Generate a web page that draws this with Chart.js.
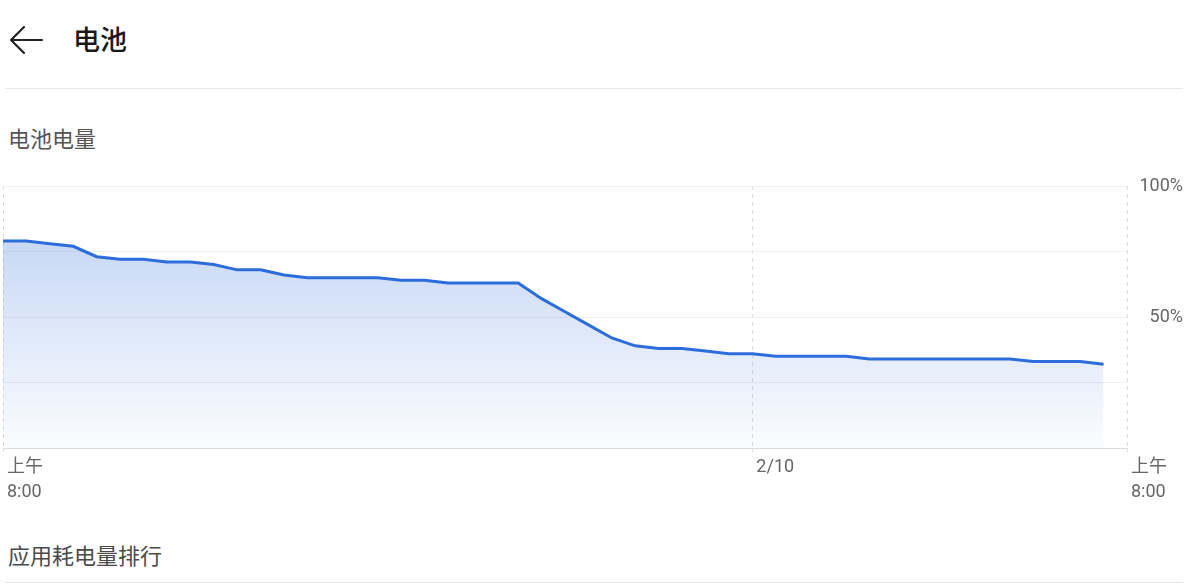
<!DOCTYPE html>
<html>
<head>
<meta charset="utf-8">
<script src="https://cdn.jsdelivr.net/npm/chart.js@4.4.1/dist/chart.umd.min.js"></script>
<style>
  html, body { margin: 0; padding: 0; background: #fff; }
  body { width: 1200px; height: 584px; position: relative; overflow: hidden;
         font-family: Roboto, "Noto Sans CJK SC", sans-serif; }
  .txt { position: absolute; white-space: nowrap; font-family: "Noto Sans CJK SC", sans-serif; }
  #title { left: 73px; top: 25px; font-size: 27px; line-height: 27px; font-weight: 500; color: #1a1a1a; }
  #sub1 { left: 8px; top: 126px; font-size: 22px; line-height: 22px; color: #555; }
  #sub2 { left: 8px; top: 543px; font-size: 22px; line-height: 22px; color: #4a4a4a; }
  .rule { position: absolute; left: 5px; width: 1178px; height: 1px; background: #e8e8e8; }
  #back { position: absolute; left: 8px; top: 24px; }
  #wrap { position: absolute; left: 0; top: 0; width: 1200px; height: 584px; }
</style>
</head>
<body>
<svg id="back" width="36" height="32" viewBox="0 0 36 32">
  <path d="M34 16 H4 M16 3 L3 16 L16 29" fill="none" stroke="#222" stroke-width="2.2" stroke-linecap="round" stroke-linejoin="round"/>
</svg>
<div class="txt" id="title">电池</div>
<div class="rule" style="top:88px"></div>
<div class="txt" id="sub1">电池电量</div>
<div class="txt" id="sub2">应用耗电量排行</div>
<div class="rule" style="top:582px"></div>
<div id="wrap"><canvas id="batteryChart" width="1200" height="584"></canvas></div>

<script>
    // hours after 8:00 (one reading every half hour)
    var hours = [0, 0.5, 1, 1.5, 2, 2.5, 3, 3.5, 4, 4.5, 5, 5.5, 6, 6.5, 7, 7.5,
                 8, 8.5, 9, 9.5, 10, 10.5, 11, 11.5, 12, 12.5, 13, 13.5, 14, 14.5, 15, 15.5,
                 16, 16.5, 17, 17.5, 18, 18.5, 19, 19.5, 20, 20.5, 21, 21.5, 22, 22.5, 23, 23.5];
    // battery level in percent
    var levels = [79, 79, 78, 77, 73, 72, 72, 71, 71, 70, 68, 68, 66, 65, 65, 65,
                  65, 64, 64, 63, 63, 63, 63, 57, 52, 47, 42, 39, 38, 38, 37, 36,
                  36, 35, 35, 35, 35, 34, 34, 34, 34, 34, 34, 34, 33, 33, 33, 32];

    var xTickValues = [0, 16, 24];
    var xTickLabels = [['上午', '8:00'], '2/10', ['上午', '8:00']];
    var yTickValues = [0, 25, 50, 75, 100];
    var yTickLabels = ['', '', '50%', '', '100%'];

    var points = hours.map(function (h, i) { return { x: h, y: levels[i] }; });

    var ctx = document.getElementById('batteryChart').getContext('2d');

    var chart = new Chart(ctx, {
        type: 'line',
        data: {
            datasets: [{
                data: points,
                borderColor: '#2c6ddb',
                borderWidth: 3,
                pointRadius: 0,
                tension: 0,
                fill: 'origin',
                backgroundColor: function (context) {
                    var area = context.chart.chartArea;
                    if (!area) return 'rgba(44,109,219,0.2)';
                    var g = context.chart.ctx.createLinearGradient(0, area.top, 0, area.bottom);
                    g.addColorStop(0, 'rgba(44,109,219,0.32)');
                    g.addColorStop(1, 'rgba(44,109,219,0.02)');
                    return g;
                }
            }]
        },
        options: {
            responsive: false,
            animation: false,
            layout: { padding: { left: 3, top: 186, right: 17, bottom: 76 } },
            plugins: { legend: { display: false }, tooltip: { enabled: false } },
            scales: {
                x: {
                    type: 'linear',
                    min: 0,
                    max: 24,
                    afterBuildTicks: function (scale) {
                        scale.ticks = xTickValues.map(function (v) { return { value: v }; });
                    },
                    afterFit: function (scale) { scale.height = 60; },
                    border: { display: false, dash: [4, 4] },
                    grid: {
                        color: '#dedede',
                        tickBorderDash: [4, 4],
                        tickColor: '#dedede',
                        tickLength: 7
                    },
                    ticks: {
                        align: 'start',
                        labelOffset: 4,
                        padding: 0,
                        maxRotation: 0,
                        autoSkip: false,
                        color: '#666',
                        font: { size: 18, family: 'Roboto, "Noto Sans CJK SC"', lineHeight: 1.38 },
                        callback: function (value) {
                            var i = xTickValues.indexOf(value);
                            return i >= 0 ? xTickLabels[i] : '';
                        }
                    }
                },
                y: {
                    position: 'right',
                    min: 0,
                    max: 100,
                    afterBuildTicks: function (scale) {
                        scale.ticks = yTickValues.map(function (v) { return { value: v }; });
                    },
                    afterFit: function (scale) { scale.width = 56; },
                    border: { display: false },
                    grid: {
                        drawTicks: false,
                        color: function (c) { return c.tick && c.tick.value === 0 ? '#dcdcdc' : '#efefef'; }
                    },
                    ticks: {
                        crossAlign: 'far',
                        padding: 16,
                        autoSkip: false,
                        color: '#666',
                        font: { size: 18, family: 'Roboto, "Noto Sans CJK SC"' },
                        callback: function (value) {
                            var i = yTickValues.indexOf(value);
                            return i >= 0 ? yTickLabels[i] : '';
                        }
                    }
                }
            }
        }
    });
</script>
</body>
</html>
